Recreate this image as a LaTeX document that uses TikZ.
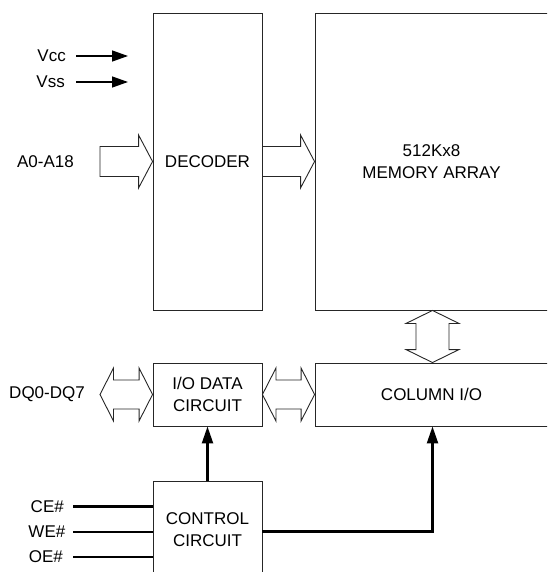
\documentclass[tikz,border=0pt]{standalone}
\usepackage{fontspec}
\setmainfont{Liberation Sans}
\usetikzlibrary{calc,arrows.meta}
\begin{document}
\begin{tikzpicture}[x=1pt,y=-1pt,
  every node/.style={font=\fontsize{17}{22}\selectfont, text=black},
  box/.style={draw=black!85, line width=0.9pt, inner sep=0pt, align=center},
  lbl/.style={anchor=east, inner sep=0pt},
  hollow/.style={draw=black!85, line width=0.9pt, line join=miter},
  thin arrow/.style={line width=1.3pt, -{Triangle[length=16pt,width=11pt]}},
  thick line/.style={line width=2.3pt},
  thick arrow/.style={line width=2.3pt, -{Triangle[length=17pt,width=11pt]}}]
\useasboundingbox (0,0) rectangle (547,572);
\begin{scope}
\clip (0,0) rectangle (547,572);
% boxes
\node[box, minimum width=109pt, minimum height=297pt] (dec) at (207.5,161.5) {DECODER};
\node[box, minimum width=233pt, minimum height=297pt] (mem) at (431.5,161.5) {512Kx8\\MEMORY ARRAY};
\node[box, minimum width=109pt, minimum height=63pt] (io) at (207.5,394.5) {I/O DATA\\CIRCUIT};
\node[box, minimum width=233pt, minimum height=63pt] (col) at (431.5,394.5) {COLUMN I/O};
\node[box, minimum width=109pt, minimum height=98pt] (ctrl) at (207.5,530) {CONTROL\\CIRCUIT};
\end{scope}
% labels
\node[lbl] (vcc) at (66,56) {Vcc};
\node[lbl] (vss) at (65,82) {Vss};
\node[lbl] (alab) at (74,161.5) {A0-A18};
\node[lbl] (dqlab) at (85,394.5) {DQ0-DQ7};
\node[lbl] (ce) at (64,506.5) {CE\#};
\node[lbl] (we) at (65.5,532) {WE\#};
\node[lbl] (oe) at (63,557) {OE\#};
% power arrows
\coordinate (vccs) at (76,56); \coordinate (vcce) at (128,56);
\coordinate (vsss) at (76,82); \coordinate (vsse) at (128,82);
\draw[thin arrow] (vccs) -- (vcce);
\draw[thin arrow] (vsss) -- (vsse);
% hollow single arrows
\coordinate (atail) at (100,161.5);
\foreach \A/\B in {atail/dec.west, dec.east/mem.west}{
\draw[hollow] ($(\A)+(0,-15)$) -- ($(\B)+(-14,-15)$) -- ($(\B)+(-14,-26.5)$) -- (\B)
  -- ($(\B)+(-14,26.5)$) -- ($(\B)+(-14,15)$) -- ($(\A)+(0,15)$) -- cycle;
}
% hollow double horizontal arrows
\coordinate (dqend) at (100,394.5);
\foreach \A/\B in {dqend/io.west, io.east/col.west}{
\draw[hollow] (\A) -- ($(\A)+(13.5,-26.5)$) -- ($(\A)+(13.5,-14.5)$) -- ($(\B)+(-13.5,-14.5)$)
  -- ($(\B)+(-13.5,-26.5)$) -- (\B) -- ($(\B)+(-13.5,26.5)$) -- ($(\B)+(-13.5,14.5)$)
  -- ($(\A)+(13.5,14.5)$) -- ($(\A)+(13.5,26.5)$) -- cycle;
}
% hollow double vertical arrow
\coordinate (mtop) at ($(mem.south)+(1,0)$);
\coordinate (mbot) at ($(col.north)+(1,0)$);
\draw[hollow] (mtop) -- ($(mtop)+(26.5,13)$) -- ($(mtop)+(16.5,13)$) -- ($(mbot)+(16.5,-13)$)
  -- ($(mbot)+(26.5,-13)$) -- (mbot) -- ($(mbot)+(-26.5,-13)$) -- ($(mbot)+(-16.5,-13)$)
  -- ($(mtop)+(-16.5,13)$) -- ($(mtop)+(-26.5,13)$) -- cycle;
% control connections
\draw[thick arrow] (ctrl.north) -- (io.south);
\coordinate (colin) at ($(col.south)+(1,0)$);
\coordinate (ctrlout) at ($(ctrl.east)+(0,1.5)$);
\draw[thick arrow] (ctrlout) -| (colin);
\coordinate (ces) at (73,506.5);
\coordinate (wes) at (73,532);
\coordinate (oes) at (73,557);
\draw[thick line] (ces) -- (ces -| ctrl.west);
\draw[thick line] (wes) -- (wes -| ctrl.west);
\draw[thick line] (oes) -- (oes -| ctrl.west);
\end{tikzpicture}
\end{document}
